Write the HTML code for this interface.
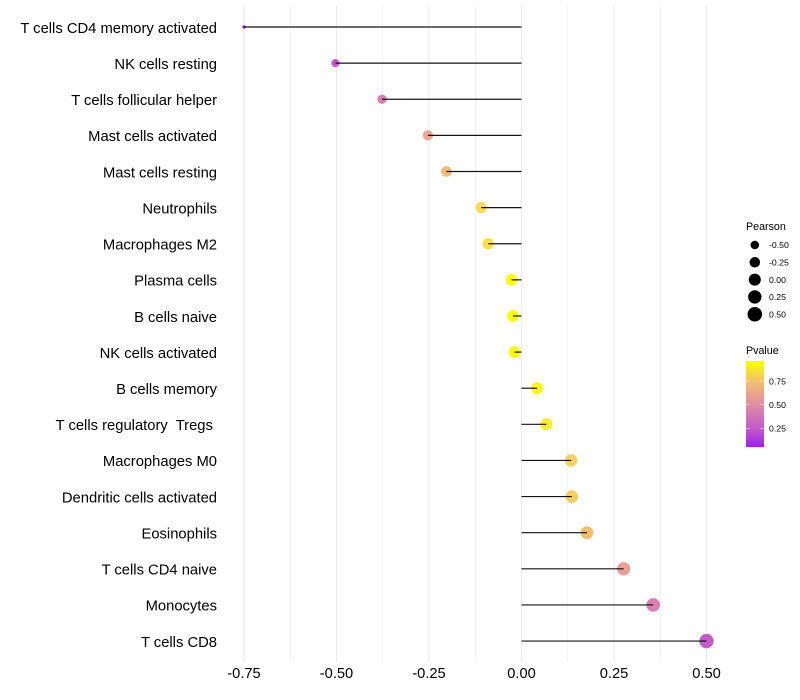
<!DOCTYPE html>
<html>
<head>
<meta charset="utf-8">
<title>Lollipop chart</title>
<style>
html,body{margin:0;padding:0;background:#fff;}
svg{display:block;}
text{font-family:"Liberation Sans",sans-serif;white-space:pre;}
</style>
</head>
<body>
<svg id="chart" width="800" height="700" viewBox="0 0 800 700" xmlns="http://www.w3.org/2000/svg">
<defs>
<linearGradient id="pvalue-gradient" x1="0" y1="1" x2="0" y2="0">
<stop offset="0" stop-color="#a020f0"/>
<stop offset="0.21" stop-color="#c25acb"/>
<stop offset="0.49" stop-color="#e08ba3"/>
<stop offset="0.76" stop-color="#f2c06f"/>
<stop offset="1" stop-color="#ffff00"/>
</linearGradient>
</defs>
<g id="grid"></g>
<g id="points"></g>
<g id="stems"></g>
<g id="ylabels"></g>
<g id="xlabels"></g>
<g id="size-legend">
<text x="746" y="230" font-size="10.7" fill="#000">Pearson</text>
</g>
<g id="color-legend">
<text x="746" y="354" font-size="10.7" fill="#000">Pvalue</text>
<rect x="746" y="361" width="18" height="86" fill="url(#pvalue-gradient)"/>
</g>
</svg>
<script>
const categories = ["T cells CD4 memory activated","NK cells resting","T cells follicular helper","Mast cells activated","Mast cells resting","Neutrophils","Macrophages M2","Plasma cells","B cells naive","NK cells activated","B cells memory","T cells regulatory  Tregs ","Macrophages M0","Dendritic cells activated","Eosinophils","T cells CD4 naive","Monocytes","T cells CD8"];
const pearson = [-0.75,-0.503,-0.377,-0.253,-0.203,-0.109,-0.09,-0.027,-0.023,-0.019,0.042,0.067,0.134,0.136,0.177,0.276,0.356,0.5];
const pvalue = [0.06,0.25,0.42,0.57,0.66,0.82,0.84,0.96,0.96,0.95,0.93,0.89,0.76,0.75,0.67,0.54,0.42,0.25];
const xTicks = [-0.75,-0.5,-0.25,0,0.25,0.5];
const xMinorTicks = [-0.625,-0.375,-0.125,0.125,0.375];
const sizeBreaks = [-0.5,-0.25,0,0.25,0.5];
const colorBreaks = [0.25,0.5,0.75];

const svgNS = "http://www.w3.org/2000/svg";
function x(v){ return 521.5 + v * 370; }
function y(i){ return 27 + i * 36.12; }
function radius(v){
  const t = (v + 0.75) / 1.25;
  return 1.7 + 5.45 * Math.sqrt(t);
}
const colorStops = [[0.055,[160,32,240]],[0.25,[196,92,204]],[0.42,[218,128,176]],[0.56,[237,165,148]],[0.68,[244,190,112]],[0.82,[251,219,88]],[0.96,[255,255,0]]];
function color(p){
  if (p <= colorStops[0][0]) return "rgb(" + colorStops[0][1].join(",") + ")";
  for (let i = 1; i < colorStops.length; i++) {
    if (p <= colorStops[i][0]) {
      const a = colorStops[i-1], b = colorStops[i];
      const t = (p - a[0]) / (b[0] - a[0]);
      const c = a[1].map(function(u, k){ return Math.round(u + (b[1][k] - u) * t); });
      return "rgb(" + c.join(",") + ")";
    }
  }
  return "rgb(255,255,0)";
}
function colorY(p){ return 404.7 - (p - 0.5) * 94.6; }
function make(tag, attrs, text){
  const el = document.createElementNS(svgNS, tag);
  Object.keys(attrs).forEach(function(k){ el.setAttribute(k, attrs[k]); });
  if (text !== undefined) el.textContent = text;
  return el;
}
function fmt(v){ return v.toFixed(2); }

const grid = document.getElementById("grid");
xMinorTicks.forEach(function(t){
  const el = make("line", {x1:x(t), x2:x(t), y1:5, y2:662, stroke:"#ebebeb", "stroke-width":0.55});
  
  
  grid.appendChild(el);
});
xTicks.forEach(function(t){
  const el = make("line", {x1:x(t), x2:x(t), y1:5, y2:662, stroke:"#ebebeb", "stroke-width":1.07});
  
  
  grid.appendChild(el);
});

const pointsG = document.getElementById("points");
const stemsG = document.getElementById("stems");
const yLabelsG = document.getElementById("ylabels");
categories.forEach(function(name, i){
  const pt = make("circle", {cx:x(pearson[i]), cy:y(i), r:radius(pearson[i]), fill:color(pvalue[i])});
  
  
  pointsG.appendChild(pt);

  const stem = make("line", {x1:x(0), x2:x(pearson[i]), y1:y(i), y2:y(i), stroke:"#000", "stroke-width":1.2, "stroke-opacity":0.92});
  
  
  stemsG.appendChild(stem);

  const lab = make("text", {x:217, y:y(i) + 5.8, "text-anchor":"end", "font-size":14.78, fill:"#000"}, name);
  
  
  yLabelsG.appendChild(lab);
});

const xLabelsG = document.getElementById("xlabels");
xTicks.forEach(function(t){
  const lab = make("text", {x:x(t), y:678, "text-anchor":"middle", "font-size":14.67, fill:"#000"}, fmt(t));
  
  
  xLabelsG.appendChild(lab);
});

const sizeLegend = document.getElementById("size-legend");
sizeBreaks.forEach(function(b, i){
  const cy = 245 + i * 17.3;
  const c = make("circle", {cx:754.8, cy:cy, r:radius(b) + 0.1, fill:"#000"});
  
  
  sizeLegend.appendChild(c);
  const t = make("text", {x:769, y:cy + 3.2, "font-size":8.7, fill:"#000"}, fmt(b));
  
  
  sizeLegend.appendChild(t);
});

const colorLegend = document.getElementById("color-legend");
colorBreaks.forEach(function(b){
  const yy = colorY(b);
  const t1 = make("line", {x1:746, x2:749.6, y1:yy, y2:yy, stroke:"#fff", "stroke-width":0.5});
  
  
  colorLegend.appendChild(t1);
  const t2 = make("line", {x1:760.4, x2:764, y1:yy, y2:yy, stroke:"#fff", "stroke-width":0.5});
  
  
  colorLegend.appendChild(t2);
  const t = make("text", {x:769, y:yy + 3.2, "font-size":8.7, fill:"#000"}, fmt(b));
  
  
  colorLegend.appendChild(t);
});
</script>
</body>
</html>
